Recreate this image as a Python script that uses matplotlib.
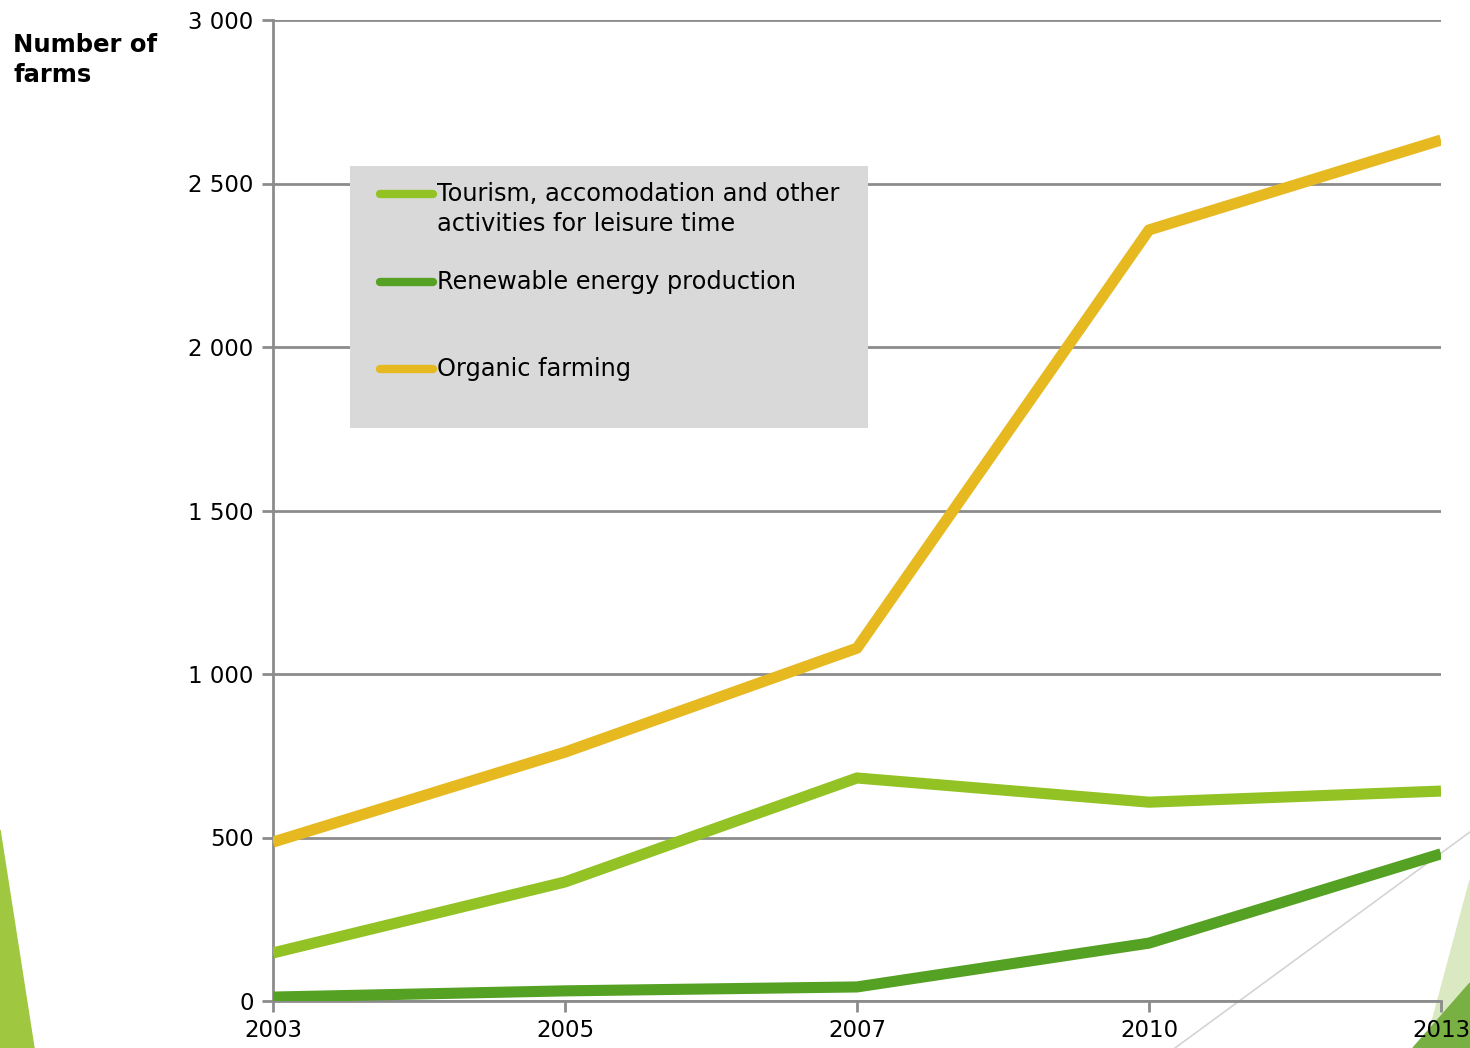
import matplotlib.pyplot as plt
from matplotlib.patches import Polygon, Rectangle
from matplotlib.lines import Line2D
from matplotlib.ticker import FuncFormatter

plt.rcParams['font.family'] = ['DejaVu Sans']

years = ['2003', '2005', '2007', '2010', '2013']
tourism = [147, 364, 682, 608, 642]
renewable = [12, 31, 43, 177, 450]
organic = [486, 761, 1079, 2358, 2633]

labels = ['Tourism, accomodation and other\nactivities for leisure time',
          'Renewable energy production',
          'Organic farming']
colors = ['#92c223', '#55a124', '#e6b921']

W, H = 1470, 1048
fig = plt.figure(figsize=(W / 100, H / 100), dpi=100)

# helper: pixel positions (from top-left) -> figure fraction
def px(pts):
    return [(x / W, 1 - y / H) for x, y in pts]

# slide decorations
fig.patches.append(Polygon(px([(0, 830), (34, 1048), (0, 1048)]), closed=True,
                           transform=fig.transFigure, color='#9fc740', zorder=-2))
fig.patches.append(Polygon(px([(1470, 880), (1425, 1048), (1470, 1048)]), closed=True,
                           transform=fig.transFigure, color='#dbe9c2', zorder=-2))
fig.patches.append(Polygon(px([(1470, 983), (1413, 1048), (1470, 1048)]), closed=True,
                           transform=fig.transFigure, color='#78b043', zorder=-2))
fig.lines.append(Line2D([1175 / W, 1.0], [0.0, 1 - 832 / H], transform=fig.transFigure,
                        color='#d4d4d4', lw=1.2, zorder=-2))

ax = fig.add_axes([273 / W, 1 - 1001 / H, (1441 - 273) / W, (1001 - 20) / H])
ax.patch.set_alpha(0)

x = list(range(len(years)))
series = [tourism, renewable, organic]
for vals, c in zip(series, colors):
    ax.plot(x, vals, color=c, lw=8, solid_capstyle='butt',
            solid_joinstyle='round', zorder=3)

ax.set_xlim(0, len(years) - 1)
ax.set_ylim(0, 3000)
ax.set_xticks(x)
ax.set_xticklabels(years)
ax.set_yticks(range(0, 3001, 500))
ax.yaxis.set_major_formatter(FuncFormatter(lambda v, p: f'{int(v):,}'.replace(',', ' ')))

grid_c = '#8c8c8c'
ax.grid(axis='y', color=grid_c, lw=2)
ax.set_axisbelow(True)
for s in ['top', 'right']:
    ax.spines[s].set_visible(False)
for s in ['left', 'bottom']:
    ax.spines[s].set_color(grid_c)
    ax.spines[s].set_linewidth(2)
ax.tick_params(axis='both', colors=grid_c, width=2, length=8, labelcolor='black',
               labelsize=16.5)
ax.tick_params(axis='x', pad=5)
ax.tick_params(axis='y', pad=6)

fig.text(13 / W, 1 - 33 / H, 'Number of\nfarms', fontsize=17.5, fontweight='bold',
         va='top', ha='left', linespacing=1.3)

# legend box drawn by hand to follow the uneven Excel spacing
fig.patches.append(Rectangle((350 / W, 1 - 428 / H), (868 - 350) / W, (428 - 166) / H,
                             transform=fig.transFigure, facecolor='#d9d9d9',
                             edgecolor='none', zorder=4))
leg_y = [194, 282, 369]
for lab, c, yy in zip(labels, colors, leg_y):
    fig.lines.append(Line2D([380 / W, 433 / W], [1 - yy / H] * 2, transform=fig.transFigure,
                            color=c, lw=6, solid_capstyle='round', zorder=5))
    fig.text(437 / W, 1 - (yy - 12) / H, lab, fontsize=17.3, va='top', ha='left',
             linespacing=1.3, zorder=5)

fig.savefig('out.png', dpi=100)
